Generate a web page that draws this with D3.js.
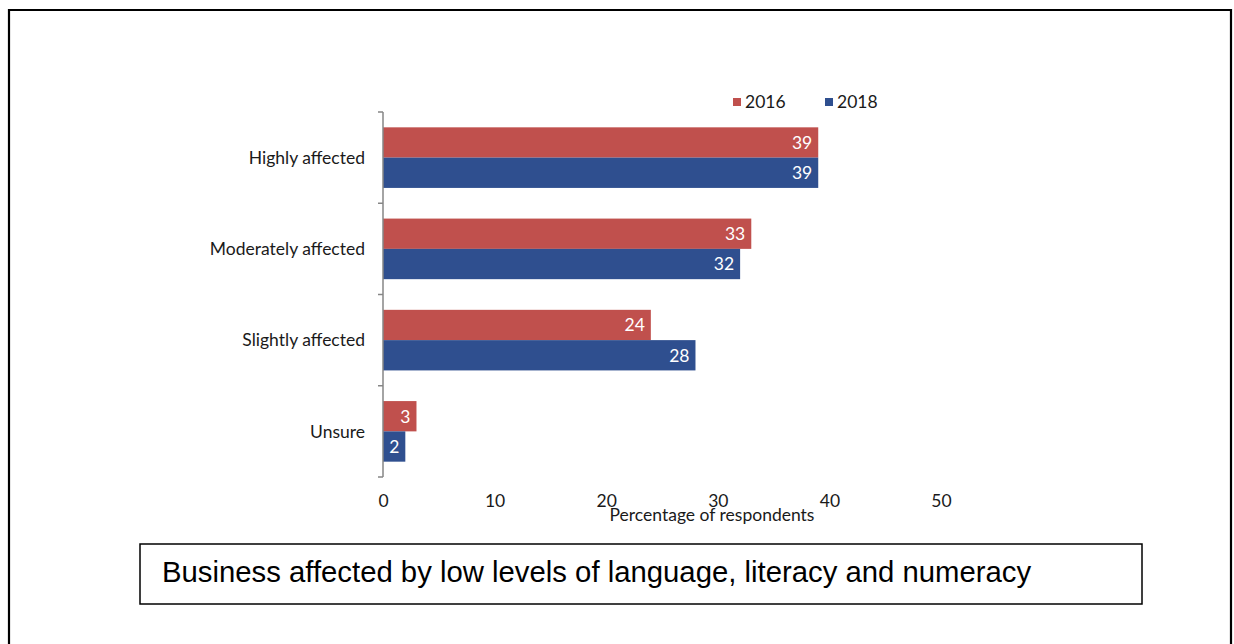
<!DOCTYPE html>
<html>
<head>
<meta charset="utf-8">
<script src="https://cdn.jsdelivr.net/npm/d3@7"></script>
<style>
  html, body { margin: 0; padding: 0; background: #fff; }
  svg { display: block; }
</style>
</head>
<body>
<svg id="chart" width="1234" height="644"></svg>
<script>
// Survey categories and responses (% of respondents)
const categories = ["Highly affected", "Moderately affected", "Slightly affected", "Unsure"];
const seriesNames = ["2016", "2018"];
const values2016 = [39, 33, 24, 3];
const values2018 = [39, 32, 28, 2];
const xTicks = [0, 10, 20, 30, 40, 50];
const colors = ["#c0504d", "#2f4f8f"];
const caption = "Business affected by low levels of language, literacy and numeracy";
const xTitle = "Percentage of respondents";

const svg = d3.select("#chart");
const chartFont = "Lato, 'Open Sans', sans-serif";
const chartSize = "17.5px";
const textColor = "#1a1a1a";

// outer frame (bottom edge runs off the page)
svg.append("path")
  .attr("d", "M9,660 V10 H1231 V660")
  .attr("fill", "none")
  .attr("stroke", "#000")
  .attr("stroke-width", 2.2);

const x = d3.scaleLinear().domain([0, 50]).range([383, 941]);
const y = d3.scaleBand().domain(categories).range([112, 477]).paddingInner(0).paddingOuter(0);
const inner = d3.scaleBand().domain(seriesNames)
  .range([0, y.bandwidth()]).paddingInner(0).paddingOuter(0.506);

const rows = categories.map((c, i) => ({
  cat: c,
  vals: [values2016[i], values2018[i]].map((v, k) => ({ key: seriesNames[k], v, color: colors[k] }))
}));

// bars
const groups = svg.append("g").selectAll("g").data(rows).join("g")
  .attr("transform", d => `translate(0,${y(d.cat)})`);

groups.selectAll("rect").data(d => d.vals).join("rect")
  .attr("x", x(0))
  .attr("y", d => inner(d.key))
  .attr("width", d => x(d.v) - x(0))
  .attr("height", inner.bandwidth())
  .attr("fill", d => d.color);

groups.selectAll("text").data(d => d.vals).join("text")
  .attr("x", d => x(d.v) - 6)
  .attr("y", d => inner(d.key) + inner.bandwidth() / 2)
  .attr("dy", "0.36em")
  .attr("text-anchor", "end")
  .attr("fill", "#fff")
  .style("font-family", chartFont)
  .style("font-size", chartSize)
  .text(d => d.v);

// category axis: vertical line with ticks between the categories
const gy = svg.append("g").attr("transform", `translate(${x(0)},0)`);
const boundaries = [...categories.map(c => y(c)), y.range()[1]];
gy.selectAll("line.b").data(boundaries).join("line")
  .attr("class", "b")
  .attr("x1", -5).attr("x2", 0)
  .attr("y1", d => d).attr("y2", d => d)
  .attr("stroke", "#868686").attr("stroke-width", 1.5);
gy.append("line")
  .attr("x1", 0).attr("x2", 0)
  .attr("y1", y.range()[0]).attr("y2", y.range()[1])
  .attr("stroke", "#868686").attr("stroke-width", 1.5);

svg.append("g").selectAll("text").data(categories).join("text")
  .attr("x", 365)
  .attr("y", d => y(d) + y.bandwidth() / 2)
  .attr("dy", "0.36em")
  .attr("text-anchor", "end")
  .attr("fill", textColor)
  .style("font-family", chartFont)
  .style("font-size", chartSize)
  .text(d => d);

// value axis (labels only)
const xAxis = d3.axisBottom(x).tickValues(xTicks).tickSize(0).tickPadding(0);
const gx = svg.append("g").attr("transform", "translate(0,507)").call(xAxis);
gx.select(".domain").remove();
gx.selectAll("text")
  .attr("y", 0)
  .attr("dy", 0)
  .attr("fill", textColor)
  .style("font-family", chartFont)
  .style("font-size", chartSize);

svg.append("text")
  .attr("x", 712)
  .attr("y", 521)
  .attr("text-anchor", "middle")
  .attr("fill", textColor)
  .style("font-family", chartFont)
  .style("font-size", chartSize)
  .text(xTitle);

// legend
const legend = svg.append("g").selectAll("g").data(seriesNames).join("g")
  .attr("transform", (d, i) => `translate(${[733, 825][i]},98)`);
legend.append("rect").attr("width", 8).attr("height", 8).attr("fill", (d, i) => colors[i]);
legend.append("text")
  .attr("x", 12).attr("y", 4).attr("dy", "0.36em")
  .attr("fill", textColor)
  .style("font-family", chartFont)
  .style("font-size", chartSize)
  .text(d => d);

// caption box
svg.append("rect")
  .attr("x", 140).attr("y", 544)
  .attr("width", 1002).attr("height", 60)
  .attr("fill", "#fff").attr("stroke", "#000").attr("stroke-width", 1.5);
svg.append("text")
  .attr("x", 162).attr("y", 582)
  .attr("fill", "#000")
  .style("font-family", "'Liberation Sans', Arial, sans-serif")
  .style("font-size", "29.3px")
  .text(caption);
</script>
</body>
</html>
